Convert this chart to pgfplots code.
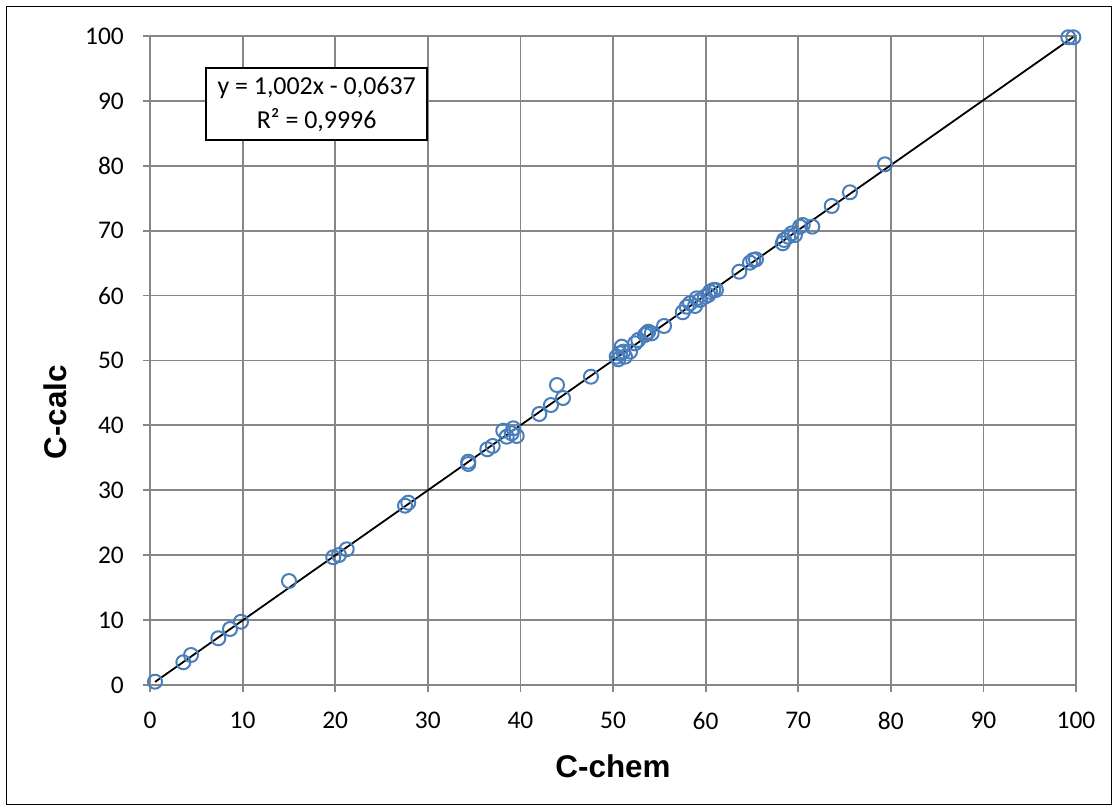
\documentclass[border=0pt]{standalone}
\usepackage{fontspec}
\setmainfont{Carlito}
\newfontfamily\arialfont{Liberation Sans}
\usepackage{pgfplots}
\pgfplotsset{compat=1.18}
\definecolor{gridgray}{RGB}{134,134,134}
\definecolor{markblue}{RGB}{74,126,187}
\begin{document}
\begin{tikzpicture}
\useasboundingbox (0,0) rectangle (1118bp,811bp);
\draw[line width=1.8bp, black] (6.5bp,6.5bp) rectangle (1111.5bp,804.5bp);
\begin{axis}[
  at={(150bp,126bp)}, anchor=south west,
  scale only axis, width=926bp, height=649bp,
  xmin=0, xmax=100, ymin=0, ymax=100,
  xtick={0,10,...,100}, ytick={0,10,...,100},
  xtick pos=bottom, ytick pos=left,
  grid=major,
  grid style={line width=1.8bp, gridgray},
  axis line style={line width=1.8bp, gridgray},
  tick align=outside, major tick length=7bp,
  tick style={line width=1.8bp, gridgray},
  /pgf/number format/assume math mode=true,
  ticklabel style={font=\fontsize{25.5}{30}\selectfont, inner sep=0pt},
  yticklabel style={xshift=-19bp},
  xticklabel style={yshift=-20bp},
  xlabel={C-chem}, ylabel={C-calc},
  label style={font=\arialfont\bfseries\fontsize{31.5}{36}\selectfont},
  xlabel style={at={(axis description cs:0.5,-0.126)}, anchor=center},
  ylabel style={at={(axis description cs:-0.1026,0.4206)}, anchor=center, rotate=0},
  clip=false,
]
\addplot[only marks, mark=o, mark size=7bp, mark options={line width=2bp, draw=markblue}] coordinates {
(0.54,0.51) (3.60,3.50) (4.43,4.62) (7.38,7.20) (8.64,8.63) (9.83,9.75)
(15.01,16.02) (19.79,19.68) (20.41,20.03) (21.24,20.91)
(27.54,27.63) (27.89,28.09) (34.37,34.41) (34.37,34.05) (36.43,36.32) (37.01,36.83)
(38.15,39.18) (39.23,39.55) (38.52,38.26) (39.60,38.37) (39.06,38.78)
(42.04,41.76) (43.30,43.14) (44.60,44.22) (43.95,46.22)
(47.62,47.50) (50.40,50.59) (50.76,51.11) (51.11,51.36) (50.94,52.13) (51.84,51.36)
(50.57,50.18) (51.30,50.59) (52.38,52.65) (52.73,53.16) (53.46,53.93) (53.81,54.44)
(54.18,54.19) (53.64,54.19) (55.51,55.32) (57.53,57.43) (57.96,58.29) (58.32,58.81)
(58.86,58.40) (59.04,59.58) (59.40,59.32) (59.94,59.83) (60.29,60.09) (60.83,60.86)
(61.12,60.86) (60.48,60.60) (63.64,63.68) (64.79,65.07) (65.15,65.49) (65.44,65.59)
(68.33,68.06) (68.47,68.57) (68.93,69.08) (69.30,69.60) (69.65,69.34) (70.19,70.62)
(70.49,70.88) (71.52,70.62) (73.62,73.81) (75.59,75.92) (79.37,80.23)
(99.17,99.80) (99.71,99.80)
};
\addplot[black, line width=1.8bp, no marks] coordinates {(0.54,0.477) (99.71,99.846)};
\node[draw=black, fill=white, line width=1.6bp, minimum width=221bp, minimum height=72bp,
  align=center, inner sep=0pt, font=\fontsize{26}{34}\selectfont]
  at (axis description cs:0.180,0.895) {y = 1,002x - 0,0637\\R² = 0,9996};
\end{axis}
\end{tikzpicture}
\end{document}
